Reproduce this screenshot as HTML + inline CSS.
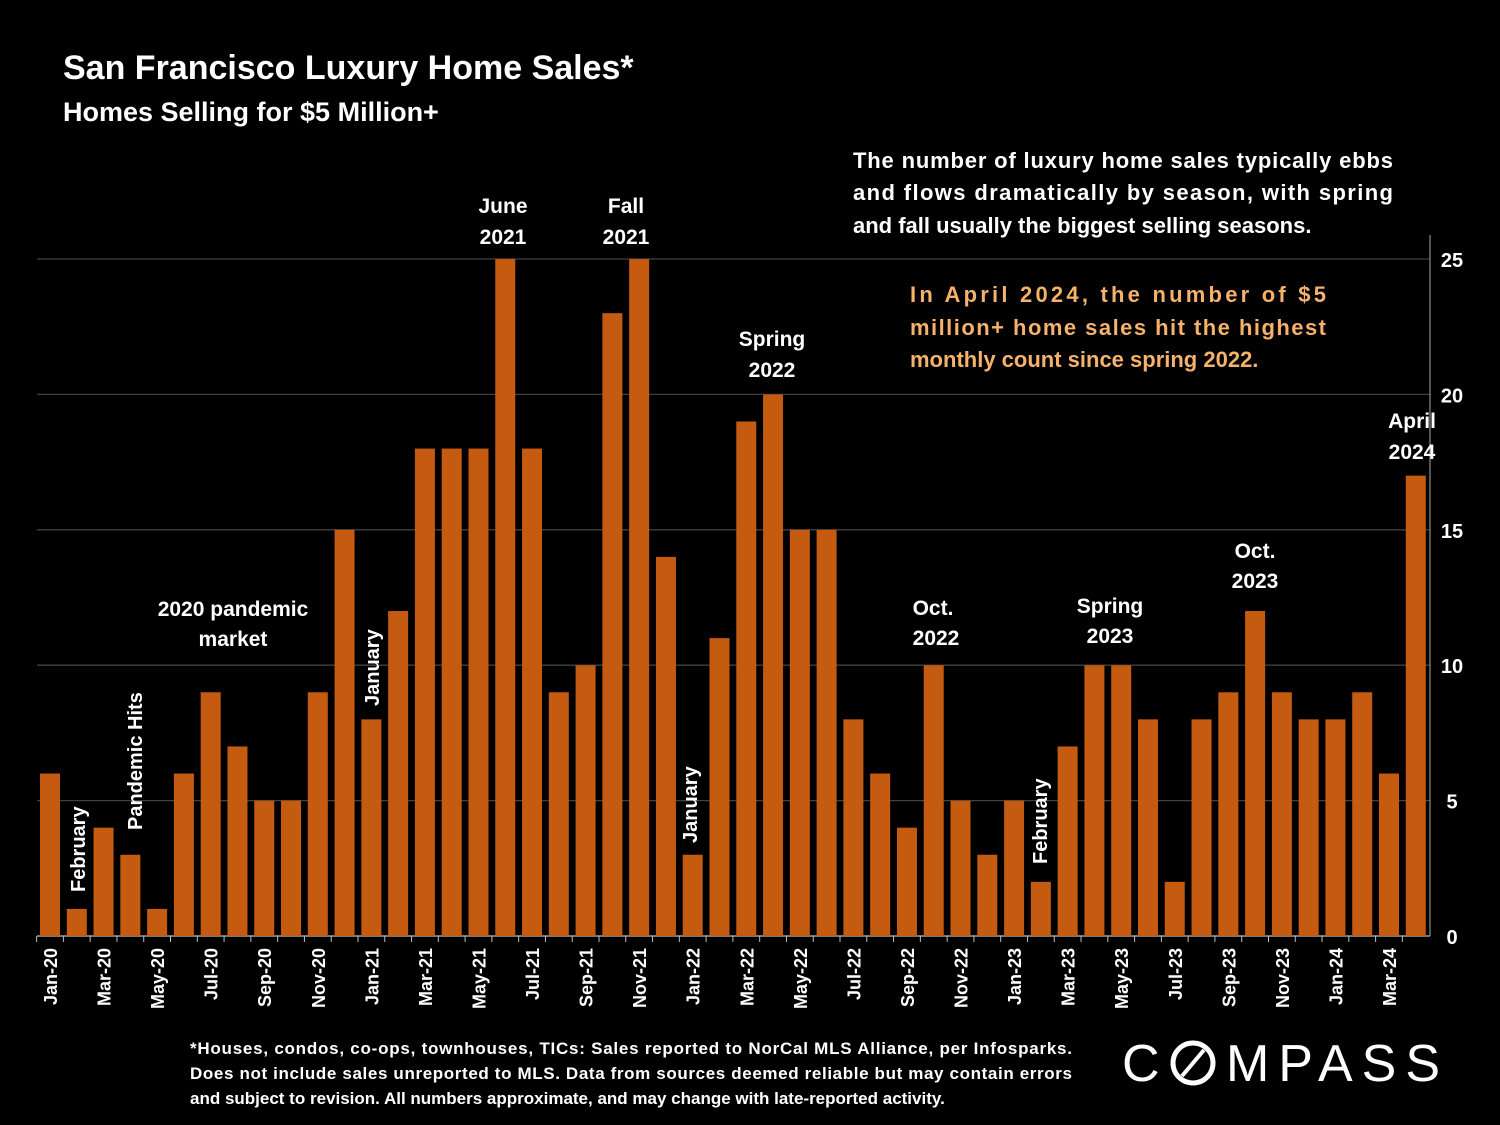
<!DOCTYPE html>
<html><head><meta charset="utf-8"><style>
html,body{margin:0;padding:0;background:#000;}
svg{display:block;font-family:"Liberation Sans",sans-serif;}
</style></head><body>
<svg id="c" width="1500" height="1125" viewBox="0 0 1500 1125">
<rect width="1500" height="1125" fill="#000"/>
<text x="63" y="79" fill="#fff" font-size="34" font-weight="bold">San Francisco Luxury Home Sales*</text>
<text x="63" y="121" fill="#fff" font-size="27" font-weight="bold">Homes Selling for $5 Million+</text>
<g fill="#fff" font-size="22" font-weight="bold">
<text x="853" y="168" textLength="540" lengthAdjust="spacing">The number of luxury home sales typically ebbs</text>
<text x="853" y="200" textLength="540" lengthAdjust="spacing">and flows dramatically by season, with spring</text>
<text x="853" y="233">and fall usually the biggest selling seasons.</text>
</g>
<g fill="#F6B26B" font-size="22" font-weight="bold">
<text x="910" y="302" textLength="416" lengthAdjust="spacing">In April 2024, the number of $5</text>
<text x="910" y="335" textLength="416" lengthAdjust="spacing">million+ home sales hit the highest</text>
<text x="910" y="367">monthly count since spring 2022.</text>
</g>
<g id="grid"></g><g id="bars"></g><g id="xl"></g><g id="ann"></g>
<g fill="#fff" font-size="17" font-weight="bold">
<text x="190" y="1054" textLength="882" lengthAdjust="spacing">*Houses, condos, co-ops, townhouses, TICs:  Sales reported to NorCal MLS Alliance, per Infosparks.</text>
<text x="190" y="1079" textLength="882" lengthAdjust="spacing">Does not include sales unreported to MLS. Data from sources deemed reliable but may contain errors</text>
<text x="190" y="1104">and subject to revision.  All numbers approximate, and may change with late-reported activity.</text>
</g>
<g>
<text x="1122" y="1081" fill="#fff" font-size="52">C</text>
<circle cx="1193" cy="1063" r="20" fill="none" stroke="#fff" stroke-width="5"/>
<line x1="1182" y1="1076" x2="1204" y2="1050" stroke="#fff" stroke-width="4"/>
<text x="1226" y="1081" fill="#fff" font-size="52" textLength="214" lengthAdjust="spacing">MPASS</text>
</g>
</svg>
<script>
const months=["Jan-20","Feb-20","Mar-20","Apr-20","May-20","Jun-20","Jul-20","Aug-20","Sep-20","Oct-20","Nov-20","Dec-20","Jan-21","Feb-21","Mar-21","Apr-21","May-21","Jun-21","Jul-21","Aug-21","Sep-21","Oct-21","Nov-21","Dec-21","Jan-22","Feb-22","Mar-22","Apr-22","May-22","Jun-22","Jul-22","Aug-22","Sep-22","Oct-22","Nov-22","Dec-22","Jan-23","Feb-23","Mar-23","Apr-23","May-23","Jun-23","Jul-23","Aug-23","Sep-23","Oct-23","Nov-23","Dec-23","Jan-24","Feb-24","Mar-24","Apr-24"];
const sales=[6,1,4,3,1,6,9,7,5,5,9,15,8,12,18,18,18,25,18,9,10,23,25,14,3,11,19,20,15,15,8,6,4,10,5,3,5,2,7,10,10,8,2,8,9,12,9,8,8,9,6,17];
const yTicks=[0,5,10,15,20,25];
const NS="http://www.w3.org/2000/svg";
const x0=50,step=26.78,bw=20,yb=936,ppu=27.08;
const X=i=>x0+i*step, Y=v=>yb-v*ppu;
function mk(t,a,p){const e=document.createElementNS(NS,t);for(const k in a)e.setAttribute(k,a[k]);p.appendChild(e);return e;}
const g=document.getElementById('grid');
yTicks.forEach(v=>{
 const l=mk('line',{x1:37,x2:1430,y1:Y(v),y2:Y(v),stroke:v===0?'#bfbfbf':'#404040','stroke-width':1.3},g);
 
 
 const t=mk('text',{x:1452,y:Y(v)+8,fill:'#fff','font-size':20,'font-weight':'bold','text-anchor':'middle'},g);
 t.textContent=v;
 
 
});
const ax=mk('line',{x1:1430,x2:1430,y1:235,y2:936,stroke:'#808080','stroke-width':1.3},g);


const b=document.getElementById('bars');
sales.forEach((v,i)=>{
 const r=mk('rect',{x:X(i)-bw/2,y:Y(v),width:bw,height:v*ppu,fill:'#C55A11'},b);
 
 
});
const xl=document.getElementById('xl');
months.forEach((m,i)=>{
 const tk=mk('line',{x1:X(i)-step/2,x2:X(i)-step/2,y1:936,y2:942,stroke:'#bfbfbf'},xl);
 
 
 if(i%2)return;
 const t=mk('text',{x:0,y:0,fill:'#fff','font-size':18,'font-weight':'bold','text-anchor':'end',transform:`translate(${X(i)+7},948) rotate(-90)`},xl);
 t.textContent=m;
 
 
});
const ann=document.getElementById('ann');
const notes=[[503,213,"June"],[503,244,"2021"],[626,213,"Fall"],[626,244,"2021"],[772,346,"Spring"],[772,377,"2022"],[233,616,"2020 pandemic"],[233,646,"market"],[933,615,"Oct."],[936,645,"2022"],[1110,613,"Spring"],[1110,643,"2023"],[1255,558,"Oct."],[1255,588,"2023"],[1412,428,"April"],[1412,459,"2024"]];
notes.forEach(n=>{
 const t=mk('text',{x:n[0],y:n[1],fill:'#fff','font-size':21,'font-weight':'bold','text-anchor':'middle'},ann);
 t.textContent=n[2];
 
 
});
const vnotes=[[85,892,"February"],[142,830,"Pandemic Hits"],[379,706,"January"],[697,843,"January"],[1047,864,"February"]];
vnotes.forEach(n=>{
 const t=mk('text',{x:0,y:0,fill:'#fff','font-size':20,'font-weight':'bold',transform:`translate(${n[0]},${n[1]}) rotate(-90)`},ann);
 t.textContent=n[2];
 
 
});
</script>
</body></html>
